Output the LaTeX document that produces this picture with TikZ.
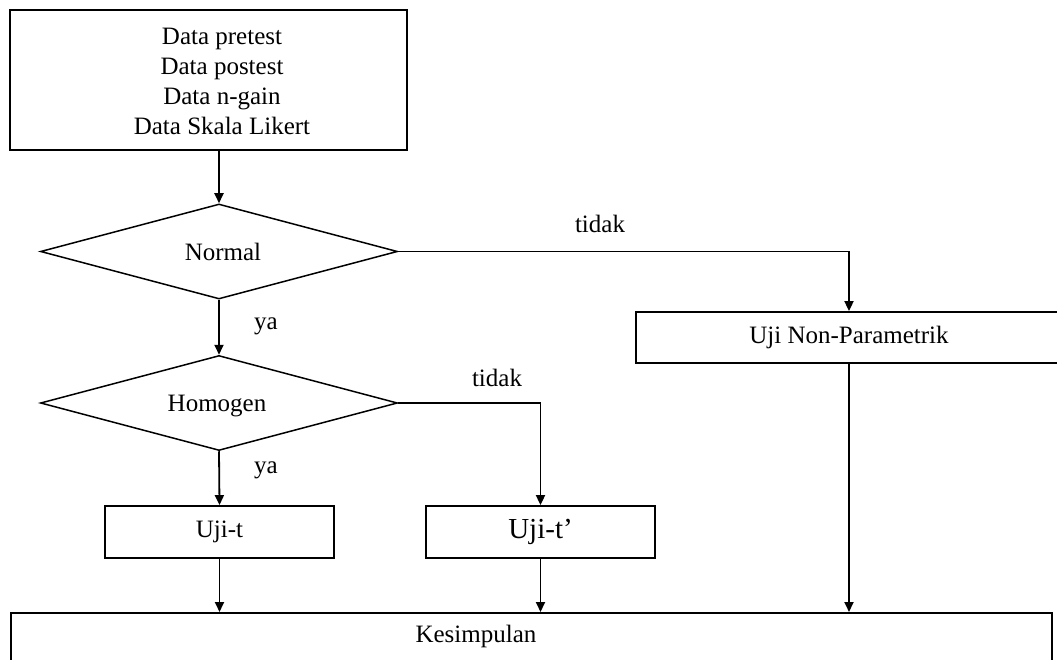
\documentclass[tikz,border=0pt]{standalone}
\usepackage{fontspec}
\setmainfont{Liberation Serif}
\usetikzlibrary{shapes.geometric,arrows.meta}
\begin{document}
\begin{tikzpicture}[x=1pt,y=-1pt,
  every node/.style={font=\fontsize{25}{30}\selectfont, inner sep=0pt},
  box/.style={draw, line width=1.8pt, rectangle},
  decision/.style={draw, line width=1.5pt, diamond, minimum width=357pt, minimum height=95pt},
  conn/.style={line width=1.8pt, -{Triangle[length=10pt,width=9pt]}},
  lbl/.style={}]
\useasboundingbox (0,0) rectangle (1057,660);
\clip (0,0) rectangle (1057,660);
% nodes
\node[box, minimum width=397pt, minimum height=140pt] (data) at (208.5,80) {};
\node[align=center] (datatext) at (222,81) {Data pretest\\Data postest\\Data n-gain\\Data Skala Likert};
\node[decision] (normal) at (219,251.5) {};
\node (normaltext) at (223,252) {Normal};
\node[decision] (homogen) at (219,403) {};
\node (homogentext) at (217,406) {Homogen};
\node[box, minimum width=426pt, minimum height=51pt] (np) at (849,337.5) {Uji Non-Parametrik};
\node[box, minimum width=229pt, minimum height=52pt] (ujit) at (219.5,532) {Uji-t};
\node[box, minimum width=229pt, minimum height=52pt, font=\fontsize{29}{34}\selectfont] (ujit2) at (540.5,532) {Uji-t’};
\node[box, minimum width=1041pt, minimum height=60pt, anchor=north west] (kes) at (10,612) {};
\node (kestext) at (476,636) {Kesimpulan};
% labels
\node[lbl] (t1) at (600,224) {tidak};
\node[lbl] (t2) at (497,378) {tidak};
\node[lbl] (y1) at (266,326) {ya};
\node[lbl] (y2) at (266,470) {ya};
% connectors
\draw[conn] (normal.north |- data.south) -- (normal.north);
\draw[conn] (normal.south) -- (homogen.north);
\draw[conn] (normal.east) -| (np.north);
\draw[conn] (homogen.south) -- (ujit.north);
\draw[conn] (homogen.east) -| (ujit2.north);
\draw[conn] (ujit.south) -- (ujit.south |- kes.north);
\draw[conn] (ujit2.south) -- (ujit2.south |- kes.north);
\draw[conn] (np.south) -- (np.south |- kes.north);
\end{tikzpicture}
\end{document}
